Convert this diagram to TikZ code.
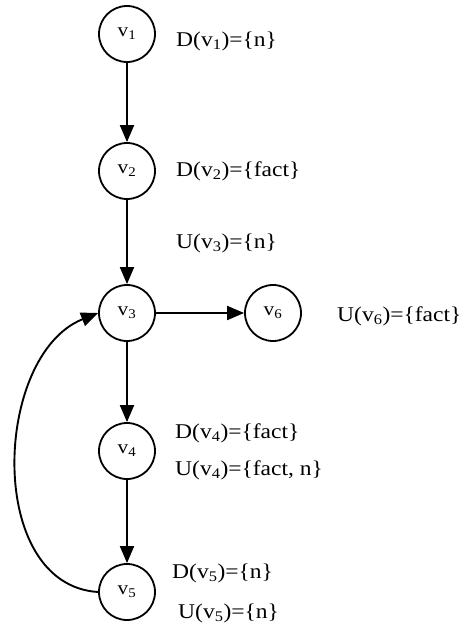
\documentclass[tikz,border=0pt]{standalone}
\usepackage{fontspec}
\setmainfont[FakeStretch=1.12]{Liberation Serif}
\usepackage{tikz}
\usetikzlibrary{arrows.meta}

\begin{document}
\begin{tikzpicture}[x=1pt, y=-1pt,
    vertex/.style={draw, circle, line width=1.8pt, minimum size=56pt, inner sep=0pt, font=\fontsize{19}{22}\selectfont},
    setlabel/.style={anchor=west, inner sep=0pt, font=\fontsize{21}{24}\selectfont},
    flow/.style={-{Triangle[length=17pt, width=14pt]}, line width=1.9pt}]
    \useasboundingbox (0, 0) rectangle (467, 634);

    % Vertices of the flow graph
    \node[vertex] (v1) at (127, 34) {v\textsubscript{1}};
    \node[vertex] (v2) at (127, 171) {v\textsubscript{2}};
    \node[vertex] (v3) at (127, 313) {v\textsubscript{3}};
    \node[vertex] (v6) at (273, 313) {v\textsubscript{6}};
    \node[vertex] (v4) at (127, 451) {v\textsubscript{4}};
    \node[vertex] (v5) at (127, 592) {v\textsubscript{5}};

    % Edges
    \draw[flow] (v1) -- (v2);
    \draw[flow] (v2) -- (v3);
    \draw[flow] (v3) -- (v6);
    \draw[flow] (v3) -- (v4);
    \draw[flow] (v4) -- (v5);
    % Back edge from v5 round to v3
    \draw[flow] (v5.west) .. controls +(-113, -7) and +(-105, 42) .. (v3.west);

    % Def / use sets
    \node[setlabel] (d1) at (176, 41) {D(v\textsubscript{1})=\{n\}};
    \node[setlabel] (d2) at (176, 171) {D(v\textsubscript{2})=\{fact\}};
    \node[setlabel] (u3) at (176, 243) {U(v\textsubscript{3})=\{n\}};
    \node[setlabel] (u6) at (337, 316) {U(v\textsubscript{6})=\{fact\}};
    \node[setlabel] (d4) at (175, 433) {D(v\textsubscript{4})=\{fact\}};
    \node[setlabel] (u4) at (175, 470) {U(v\textsubscript{4})=\{fact, n\}};
    \node[setlabel] (d5) at (172, 573) {D(v\textsubscript{5})=\{n\}};
    \node[setlabel] (u5) at (178, 613) {U(v\textsubscript{5})=\{n\}};
\end{tikzpicture}
\end{document}
